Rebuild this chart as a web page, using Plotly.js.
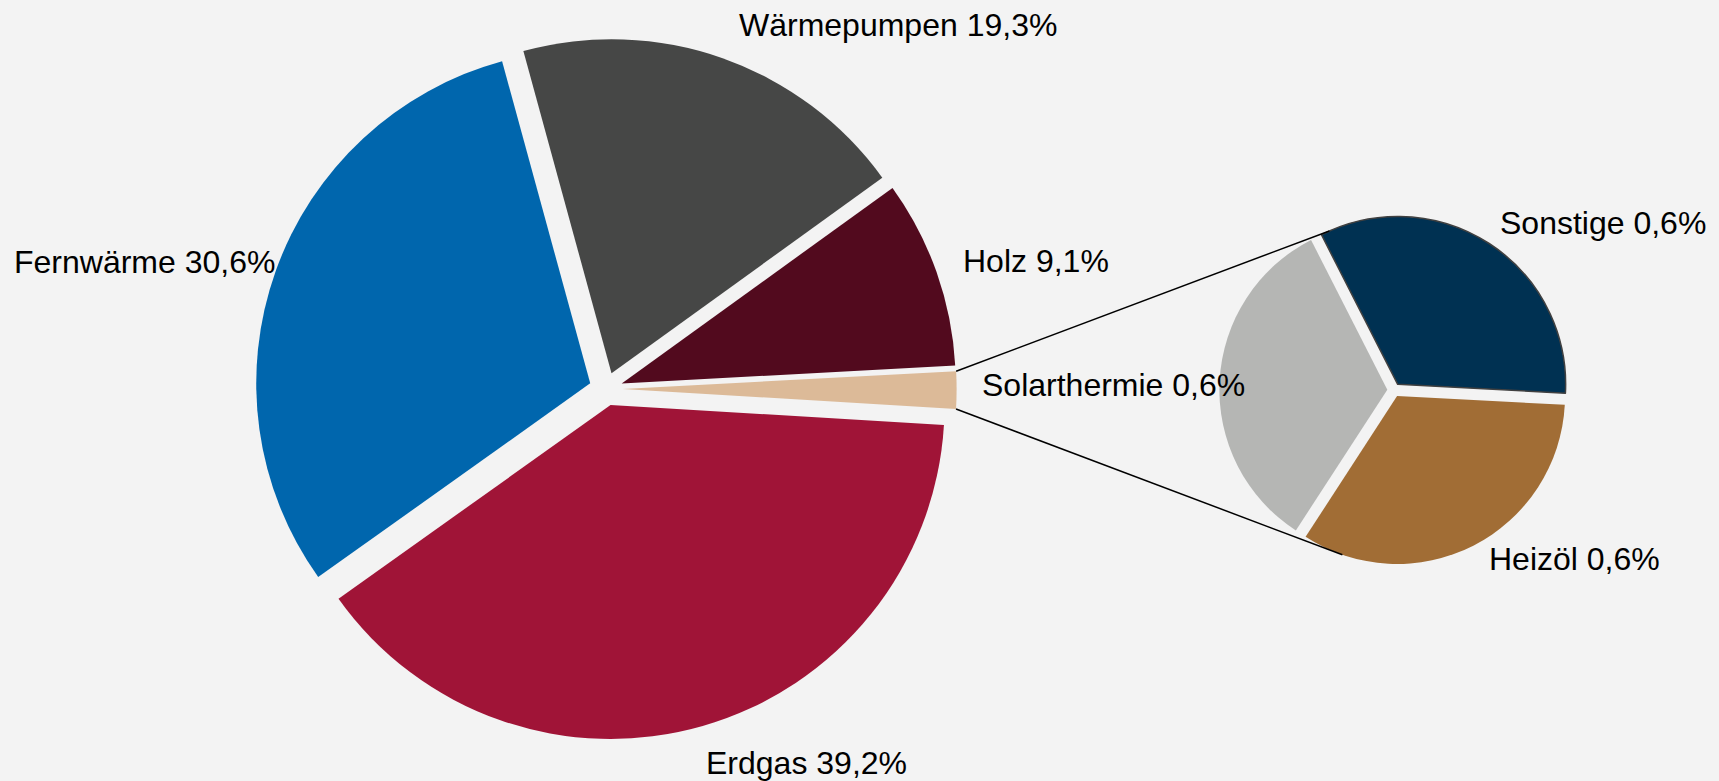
<!DOCTYPE html>
<html>
<head>
<meta charset="utf-8">
<script src="https://cdn.plot.ly/plotly-3.0.1.min.js"></script>
<style>
  html, body { margin: 0; padding: 0; background: #f3f3f3; }
  #chart { width: 1719px; height: 781px; }
</style>
</head>
<body>
<div id="chart"></div>
<script>
// ---- data ----
const mainLabels = ['Wärmepumpen', 'Holz', 'Weitere', 'Erdgas', 'Fernwärme'];
const mainValues = [19.3, 9.1, 1.8, 39.2, 30.6];
const secLabels = ['Sonstige', 'Heizöl', 'Solarthermie'];
const secValues = [0.6, 0.6, 0.6];

// ---- styles / layout ----
const mainColors = ['#464746', '#520a1e', '#dcba98', '#a01437', '#0066ad'];
const secColors = ['#003152', '#a16d35', '#b5b6b4'];
const W = 1719, H = 781;
const mainDomain = { x: [0.1485, 0.5565], y: [0.0529, 0.951] };
const secDomain = { x: [0.7093, 0.9126], y: [0.277, 0.7243] };
const mainPull = 0.05, secPull = 0.04;
const mainRotation = 344.7, secRotation = 333;
const otherIndex = 2;           // slice of the main pie that is split in the second pie
const connectorAngles = [-24, 199]; // where the connector lines meet the second pie

// label anchor positions in pixels (left edge, baseline)
const labelPos = {
  'Wärmepumpen': [737, 36],
  'Holz': [961, 272],
  'Fernwärme': [12, 273],
  'Erdgas': [704, 774],
  'Solarthermie': [980, 396],
  'Sonstige': [1498, 234],
  'Heizöl': [1487, 570]
};
const fontSize = 32;

function fmt(v) { return v.toFixed(1).replace('.', ',') + '%'; }

function geom(domain, pull) {
  const w = W * (domain.x[1] - domain.x[0]);
  const h = H * (domain.y[1] - domain.y[0]);
  const cx = W * (domain.x[0] + domain.x[1]) / 2;
  const cy = H * (1 - (domain.y[0] + domain.y[1]) / 2);
  const r = Math.min(w, h) / 2 / (1 + pull);
  return { cx, cy, r };
}
function dir(deg) { const a = deg * Math.PI / 180; return [Math.sin(a), -Math.cos(a)]; }

// slice angles of the main pie
const total = mainValues.reduce((a, b) => a + b, 0);
let acc = 0;
for (let i = 0; i < otherIndex; i++) acc += mainValues[i];
const a1 = mainRotation + acc / total * 360;
const a2 = a1 + mainValues[otherIndex] / total * 360;
const am = (a1 + a2) / 2;
const gm = geom(mainDomain, mainPull);
const off = dir(am).map(v => v * mainPull * gm.r);
const p1 = [gm.cx + off[0] + gm.r * dir(a1)[0], gm.cy + off[1] + gm.r * dir(a1)[1]];
const p2 = [gm.cx + off[0] + gm.r * dir(a2)[0], gm.cy + off[1] + gm.r * dir(a2)[1]];

// second pie ends of connectors
const gs = geom(secDomain, secPull);
const secTotal = secValues.reduce((a, b) => a + b, 0);
function secEnd(angle, sliceIdx) {
  let s = 0; for (let i = 0; i < sliceIdx; i++) s += secValues[i];
  const mid = secRotation + (s + secValues[sliceIdx] / 2) / secTotal * 360;
  const o = dir(mid).map(v => v * secPull * gs.r);
  const d = dir(angle);
  return [gs.cx + o[0] + gs.r * d[0], gs.cy + o[1] + gs.r * d[1]];
}
const q1 = secEnd(connectorAngles[0], 0);
const q2 = secEnd(connectorAngles[1], 1);

const toPaper = p => [p[0] / W, 1 - p[1] / H];
const shapes = [[p1, q1], [p2, q2]].map(([a, b]) => {
  const A = toPaper(a), B = toPaper(b);
  return { type: 'line', xref: 'paper', yref: 'paper', x0: A[0], y0: A[1], x1: B[0], y1: B[1],
           line: { color: '#000000', width: 1.5 }, layer: 'above' };
});

const annotations = [];
mainLabels.forEach((l, i) => {
  if (labelPos[l]) annotations.push({ l, v: mainValues[i] });
});
secLabels.forEach((l, i) => annotations.push({ l, v: secValues[i] }));
const annots = annotations.map(({ l, v }) => {
  const p = labelPos[l];
  return {
    xref: 'paper', yref: 'paper',
    x: p[0] / W, y: 1 - (p[1] - 0.3465 * fontSize) / H,
    xanchor: 'left', yanchor: 'middle', showarrow: false,
    text: l + ' ' + fmt(v),
    font: { size: fontSize, color: '#000000', family: 'Liberation Sans, Arial, sans-serif' }
  };
});

const traces = [
  {
    type: 'pie', labels: mainLabels, values: mainValues, sort: false,
    direction: 'clockwise', rotation: mainRotation,
    pull: mainValues.map(() => mainPull),
    marker: { colors: mainColors, line: { width: 0 } },
    textinfo: 'none', hoverinfo: 'label+percent',
    domain: mainDomain, showlegend: false
  },
  {
    type: 'pie', labels: secLabels, values: secValues, sort: false,
    direction: 'clockwise', rotation: secRotation,
    pull: secValues.map(() => secPull),
    marker: { colors: secColors, line: { width: [1.5, 0, 0], color: ['#404040', '#f3f3f3', '#f3f3f3'] } },
    textinfo: 'none', hoverinfo: 'label+value',
    domain: secDomain, showlegend: false
  }
];

const layout = {
  width: W, height: H,
  margin: { l: 0, r: 0, t: 0, b: 0 },
  paper_bgcolor: '#f3f3f3', plot_bgcolor: '#f3f3f3',
  font: { family: 'Liberation Sans, Arial, sans-serif' },
  showlegend: false,
  shapes: shapes,
  annotations: annots
};

Plotly.newPlot('chart', traces, layout, { displayModeBar: false, staticPlot: true });
</script>
</body>
</html>
